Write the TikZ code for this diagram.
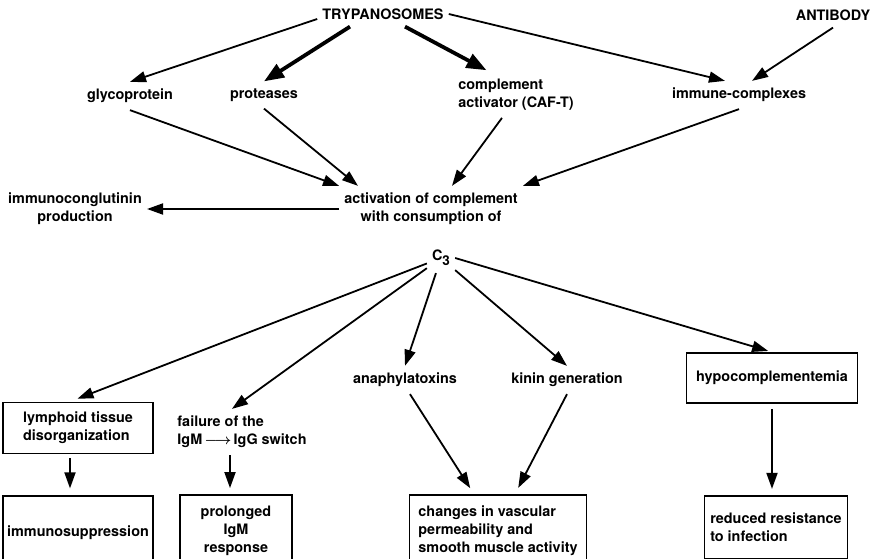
\documentclass[tikz,border=0pt]{standalone}
\usepackage{fontspec}
\setmainfont{TeX Gyre Heros}
\usepackage{amsmath}
\usetikzlibrary{positioning, arrows.meta}

\begin{document}
\begin{tikzpicture}[
    x=1pt, y=-1pt,
    every node/.style={font=\bfseries\fontsize{14.4}{18}\selectfont},
    term/.style={inner xsep=5pt, inner ysep=7pt, align=center},
    boxed/.style={draw=black, line width=1.8pt, inner sep=4pt, align=left},
    link/.style={line width=1.8pt, -{Triangle[length=16pt, width=11pt]}},
    biglink/.style={line width=3.8pt, -{Triangle[length=20pt, width=15pt]}}
]
\clip (0,0) rectangle (876,559);

% --- NODES ---
% top row
\node[term] (tryp) at (383,14) {TRYPANOSOMES};
\node[term] (anti) at (833,15) {ANTIBODY};

% products of the parasite
\node[term] (glyco) at (130,96) {glycoprotein};
\node[term] (prot) at (264,95) {proteases};
\node[term, align=left] (caf) at (516,95) {complement\\activator (CAF-T)};
\node[term] (immc) at (739,95) {immune-complexes};

% complement activation
\node[term] (act) at (431,209) {activation of complement\\with consumption of};
\node[term] (immcon) at (75,209) {immunoconglutinin\\production};
\node[term] (c3) at (441,258) {C\raisebox{-5pt}{\fontsize{13.5}{13.5}\selectfont 3}};

% consequences
\node[term] (anaph) at (405,380) {anaphylatoxins};
\node[term] (kinin) at (567,380) {kinin generation};
\node[boxed, minimum width=171pt, minimum height=50pt] (hypo) at (772,378) {hypocomplementemia};
\node[boxed, minimum width=150pt, minimum height=51pt] (lymph) at (78,428) {lymphoid tissue\\disorganization};
\node[term, align=left] (fail) at (242,432) {failure of the\\IgM$\,\boldsymbol{\longrightarrow}\,$IgG switch};

% bottom row
\node[boxed, minimum width=150pt, minimum height=72pt, below=41pt of lymph] (immuno) {immunosuppression};
\node[boxed, align=center, minimum width=112pt, minimum height=72pt] (prol) at (236,531) {prolonged\\IgM\\response};
\node[boxed, minimum width=177pt, minimum height=72pt] (changes) at (498,531) {changes in vascular\\permeability and\\smooth muscle activity};
\node[boxed, minimum width=143pt, minimum height=63pt, below=91pt of hypo, xshift=4pt] (reduced) {reduced resistance\\to infection};

% --- CONNECTORS ---

% 1. from the trypanosomes and the antibody
\draw[link] ([yshift=-5pt]tryp.west) -- (glyco.north);
\draw[biglink] ([xshift=-33pt]tryp.south) -- (prot.north);
\draw[biglink, shorten >=4pt] ([xshift=22pt]tryp.south) -- ([xshift=-26pt]caf.north);
\draw[link] (tryp.east) -- ([xshift=-14pt]immc.north);
\draw[link] (anti.south) -- ([xshift=13pt]immc.north);

% 2. into the activation of complement
\draw[link] (glyco.south) -- (act.north west);
\draw[link] (prot.south) -- ([xshift=-73pt]act.north);
\draw[link] ([xshift=-14pt]caf.south) -- ([xshift=21pt]act.north);
\draw[link] (immc.south) -- (act.north east);
\draw[link] (act.west) -- (immcon.east);

% 3. from C3
\draw[link, shorten >=8pt] (c3) -- ([xshift=-8pt]lymph.north);
\draw[link] (c3) -- ([xshift=-10pt]fail.north);
\draw[link] (c3) -- (anaph.north);
\draw[link] (c3) -- (kinin.north);
\draw[link, shorten >=4pt] (c3.east) -- (hypo.north);

% 4. down to the bottom row
\draw[link, shorten <=4pt, shorten >=7pt] ([xshift=-8pt]lymph.south) -- ([xshift=-8pt]immuno.north);
\draw[link, shorten >=6pt] ([xshift=-12pt]fail.south) -- ([xshift=-6pt]prol.north);
\draw[link, shorten >=7pt] ([xshift=5pt]anaph.south) -- ([xshift=-24pt]changes.north);
\draw[link, shorten >=7pt] (kinin.south) -- ([xshift=17pt]changes.north);
\draw[link, shorten <=5pt, shorten >=6pt] (hypo.south) -- (hypo.south |- reduced.north);

\end{tikzpicture}
\end{document}
